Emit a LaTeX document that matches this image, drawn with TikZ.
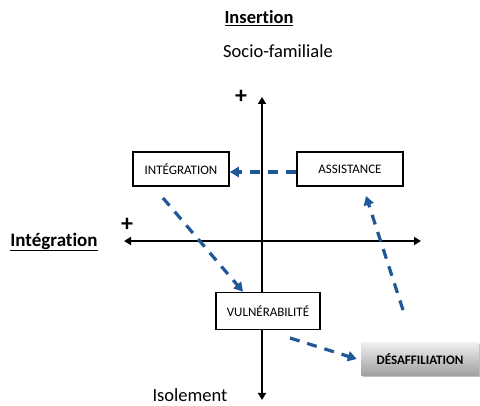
\documentclass[tikz,border=0pt]{standalone}
\usepackage{fontspec}
\setmainfont{Carlito}[Ligatures=NoCommon]
\usetikzlibrary{arrows.meta,shadows}
\definecolor{flowblue}{RGB}{30,88,150}
\tikzset{
 etat/.style={draw,line width=1.6pt,minimum width=96pt,minimum height=34pt,font=\fontsize{13}{14}\selectfont},
 flux/.style={flowblue,line width=3.2pt,dash pattern=on 10pt off 8pt,-{Triangle[length=9pt,width=10pt]}},
 axe/.style={line width=2.4pt,{Triangle[length=7pt,width=8pt]}-{Triangle[length=7pt,width=8pt]}}
}
\begin{document}
\begin{tikzpicture}[x=1pt,y=-1pt]
\useasboundingbox (0,0) rectangle (480,406);

% axes
\coordinate (N) at (262,97);
\coordinate (S) at (262,400);
\coordinate (W) at (124,241);
\coordinate (E) at (421,241);
\draw[axe] (S) -- (N);
\draw[axe] (W) -- (E);
\node (plusN) at (241,97) {\fontsize{24}{24}\selectfont\bfseries +};
\node (plusW) at (127,225) {\fontsize{24}{24}\selectfont\bfseries +};

% titles
\node (tins) at (259,18) {\fontsize{18.5}{19}\selectfont\bfseries\underline{Insertion}};
\node (tsoc) at (278,51) {\fontsize{18.5}{19}\selectfont Socio-familiale};
\node (tint) at (54,242) {\fontsize{19}{19}\selectfont\bfseries\underline{Intégration}};
\node (tiso) at (190,395) {\fontsize{18.5}{19}\selectfont Isolement};

% states
\node[etat,fill=white] (integ) at (181,169) {INTÉGRATION};
\node[etat,fill=white,minimum width=106pt] (assist) at (350,169) {ASSISTANCE};
\node[etat,fill=white,minimum width=104pt,minimum height=37pt] (vuln) at (268,311) {VULNÉRABILITÉ};
\node[minimum width=118pt,minimum height=33pt,top color=gray!12,bottom color=gray!75,
 drop shadow={opacity=0.5,shadow xshift=1.5pt,shadow yshift=-1.5pt},
 font=\fontsize{13}{14}\selectfont\bfseries] (desaf) at (420,359) {DÉSAFFILIATION};

% flows
\coordinate (a1) at (296,172);
\coordinate (a2) at (163,198);
\coordinate (a3) at (403,310);
\coordinate (a4) at (290,338);
\draw[flux] (a1) -- (integ.east |- a1);
\draw[flux] (a2) -- ([xshift=-25pt]vuln.north);
\draw[flux] (a4) -- ([xshift=-4pt]desaf.west);
\draw[flux] (a3) -- (366,196);
\end{tikzpicture}
\end{document}
